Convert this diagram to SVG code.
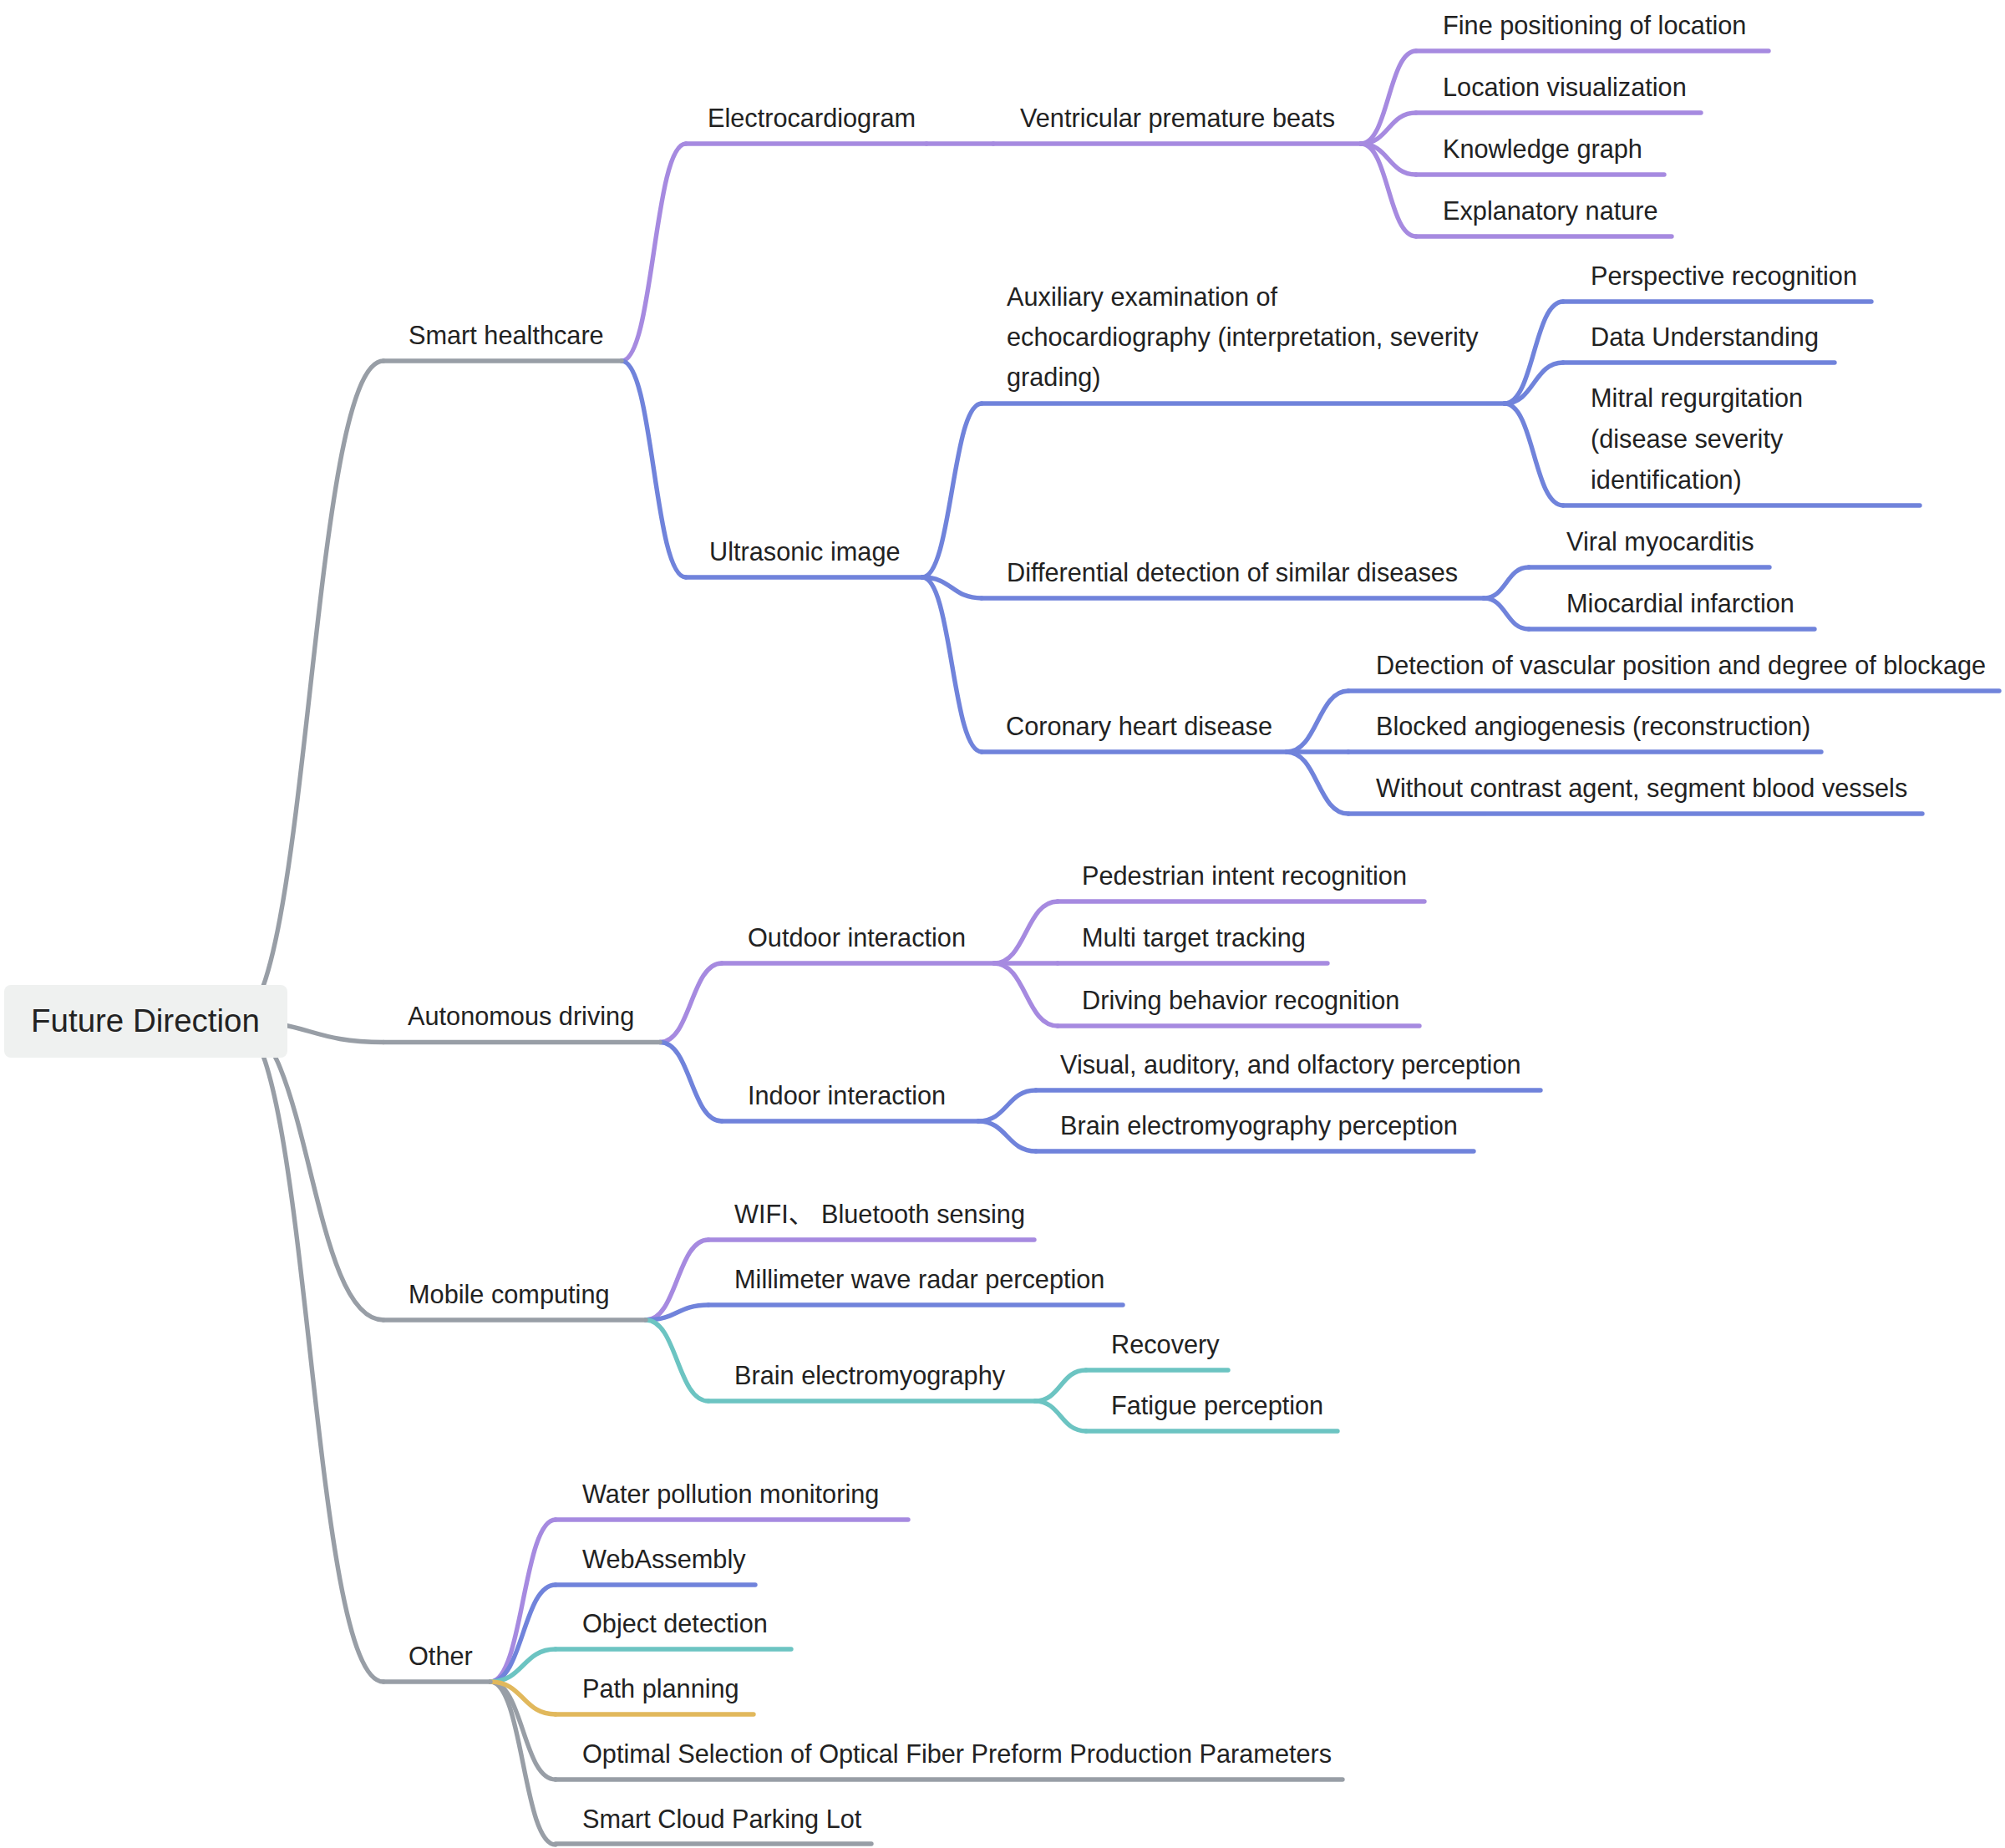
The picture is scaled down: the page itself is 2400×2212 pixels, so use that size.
<svg xmlns="http://www.w3.org/2000/svg" width="2400" height="2212" viewBox="0 0 2400 2212">
<style>
.ln{fill:none;stroke-width:5.4;stroke-linecap:round;stroke-linejoin:round}
.g{stroke:#989ea6}
.p{stroke:#a68ae0}
.b{stroke:#7083db}
.t{stroke:#6cc4c2}
.y{stroke:#e1b85c}
.lbl{font-family:"Liberation Sans","Noto Sans CJK SC",sans-serif;font-size:30.7px;fill:#222}
.root{font-family:"Liberation Sans","Noto Sans CJK SC",sans-serif;font-size:38.5px;fill:#222}
</style>
<rect width="2400" height="2212" fill="#ffffff"/>
<g id="connectors">
<path class="ln g" d="M283 1222 C371 1222 371 432 459 432"/>
<path class="ln g" d="M283 1222 C371 1222 371 1247.5 459 1247.5"/>
<path class="ln g" d="M283 1222 C371 1222 371 1580 459 1580"/>
<path class="ln g" d="M283 1222 C371 1222 371 2013 459 2013"/>
<path class="ln p" d="M744 432 C782.5 432 782.5 172 821 172"/>
<path class="ln b" d="M744 432 C782.5 432 782.5 691 821 691"/>
<path class="ln p" d="M1109 172 L1189 172"/>
<path class="ln p" d="M1629 172 C1662 172 1662 61 1695 61"/>
<path class="ln p" d="M1629 172 C1662 172 1662 135 1695 135"/>
<path class="ln p" d="M1629 172 C1662 172 1662 209 1695 209"/>
<path class="ln p" d="M1629 172 C1662 172 1662 283 1695 283"/>
<path class="ln b" d="M1104 691 C1139.5 691 1139.5 483 1175 483"/>
<path class="ln b" d="M1104 691 C1139.5 691 1139.5 716 1175 716"/>
<path class="ln b" d="M1104 691 C1139.5 691 1139.5 900 1175 900"/>
<path class="ln b" d="M1801 483 C1836 483 1836 361 1871 361"/>
<path class="ln b" d="M1801 483 C1836 483 1836 434 1871 434"/>
<path class="ln b" d="M1801 483 C1836 483 1836 605 1871 605"/>
<path class="ln b" d="M1776 716 C1803 716 1803 679 1830 679"/>
<path class="ln b" d="M1776 716 C1803 716 1803 753 1830 753"/>
<path class="ln b" d="M1540 900 C1577 900 1577 827 1614 827"/>
<path class="ln b" d="M1540 900 L1614 900"/>
<path class="ln b" d="M1540 900 C1577 900 1577 974 1614 974"/>
<path class="ln p" d="M790 1247.5 C827 1247.5 827 1153 864 1153"/>
<path class="ln b" d="M790 1247.5 C827 1247.5 827 1342 864 1342"/>
<path class="ln p" d="M1190 1153 C1228 1153 1228 1079 1266 1079"/>
<path class="ln p" d="M1190 1153 L1266 1153"/>
<path class="ln p" d="M1190 1153 C1228 1153 1228 1228 1266 1228"/>
<path class="ln b" d="M1171 1342 C1205.5 1342 1205.5 1305 1240 1305"/>
<path class="ln b" d="M1171 1342 C1205.5 1342 1205.5 1378 1240 1378"/>
<path class="ln p" d="M773 1580 C810.5 1580 810.5 1484 848 1484"/>
<path class="ln b" d="M773 1580 C810.5 1580 810.5 1562 848 1562"/>
<path class="ln t" d="M773 1580 C810.5 1580 810.5 1677 848 1677"/>
<path class="ln t" d="M1239 1677 C1269.5 1677 1269.5 1640 1300 1640"/>
<path class="ln t" d="M1239 1677 C1269.5 1677 1269.5 1713 1300 1713"/>
<path class="ln g" d="M587 2013 C626 2013 626 2208 665 2208"/>
<path class="ln g" d="M587 2013 C626 2013 626 2130 665 2130"/>
<path class="ln p" d="M587 2013 C626 2013 626 1819 665 1819"/>
<path class="ln b" d="M587 2013 C626 2013 626 1897 665 1897"/>
<path class="ln t" d="M587 2013 C626 2013 626 1974 665 1974"/>
<path class="ln y" d="M587 2013 C626 2013 626 2052 665 2052"/>
</g>
<g id="n-smart-healthcare"><line class="ln g" x1="459" y1="432" x2="744" y2="432"/><text class="lbl" x="489" y="412">Smart healthcare</text></g>
<g id="n-autonomous-driving"><line class="ln g" x1="459" y1="1247.5" x2="790" y2="1247.5"/><text class="lbl" x="488" y="1227">Autonomous driving</text></g>
<g id="n-mobile-computing"><line class="ln g" x1="459" y1="1580" x2="773" y2="1580"/><text class="lbl" x="489" y="1560">Mobile computing</text></g>
<g id="n-other"><line class="ln g" x1="459" y1="2013" x2="587" y2="2013"/><text class="lbl" x="489" y="1993">Other</text></g>
<g id="n-electrocardiogram"><line class="ln p" x1="821" y1="172" x2="1109" y2="172"/><text class="lbl" x="847" y="152">Electrocardiogram</text></g>
<g id="n-ventricular"><line class="ln p" x1="1189" y1="172" x2="1629" y2="172"/><text class="lbl" x="1221" y="152">Ventricular premature beats</text></g>
<g id="n-fine-positioning"><line class="ln p" x1="1695" y1="61" x2="2117" y2="61"/><text class="lbl" x="1727" y="41">Fine positioning of location</text></g>
<g id="n-location-visualization"><line class="ln p" x1="1695" y1="135" x2="2036" y2="135"/><text class="lbl" x="1727" y="115">Location visualization</text></g>
<g id="n-knowledge-graph"><line class="ln p" x1="1695" y1="209" x2="1992" y2="209"/><text class="lbl" x="1727" y="189">Knowledge graph</text></g>
<g id="n-explanatory-nature"><line class="ln p" x1="1695" y1="283" x2="2001" y2="283"/><text class="lbl" x="1727" y="263">Explanatory nature</text></g>
<g id="n-ultrasonic-image"><line class="ln b" x1="821" y1="691" x2="1104" y2="691"/><text class="lbl" x="849" y="671">Ultrasonic image</text></g>
<g id="n-auxiliary"><line class="ln b" x1="1175" y1="483" x2="1801" y2="483"/><text class="lbl"><tspan x="1205" y="366">Auxiliary examination of</tspan><tspan x="1205" y="414">echocardiography (interpretation, severity</tspan><tspan x="1205" y="462">grading)</tspan></text></g>
<g id="n-perspective"><line class="ln b" x1="1871" y1="361" x2="2240" y2="361"/><text class="lbl" x="1904" y="341">Perspective recognition</text></g>
<g id="n-data-understanding"><line class="ln b" x1="1871" y1="434" x2="2196" y2="434"/><text class="lbl" x="1904" y="414">Data Understanding</text></g>
<g id="n-mitral"><line class="ln b" x1="1871" y1="605" x2="2298" y2="605"/><text class="lbl"><tspan x="1904" y="487">Mitral regurgitation</tspan><tspan x="1904" y="536">(disease severity</tspan><tspan x="1904" y="585">identification)</tspan></text></g>
<g id="n-differential"><line class="ln b" x1="1175" y1="716" x2="1776" y2="716"/><text class="lbl" x="1205" y="696">Differential detection of similar diseases</text></g>
<g id="n-viral"><line class="ln b" x1="1830" y1="679" x2="2118" y2="679"/><text class="lbl" x="1875" y="659">Viral myocarditis</text></g>
<g id="n-miocardial"><line class="ln b" x1="1830" y1="753" x2="2172" y2="753"/><text class="lbl" x="1875" y="733">Miocardial infarction</text></g>
<g id="n-coronary"><line class="ln b" x1="1175" y1="900" x2="1540" y2="900"/><text class="lbl" x="1204" y="880">Coronary heart disease</text></g>
<g id="n-detection"><line class="ln b" x1="1614" y1="827" x2="2393" y2="827"/><text class="lbl" x="1647" y="807">Detection of vascular position and degree of blockage</text></g>
<g id="n-blocked"><line class="ln b" x1="1614" y1="900" x2="2180" y2="900"/><text class="lbl" x="1647" y="880">Blocked angiogenesis (reconstruction)</text></g>
<g id="n-without"><line class="ln b" x1="1614" y1="974" x2="2301" y2="974"/><text class="lbl" x="1647" y="954">Without contrast agent, segment blood vessels</text></g>
<g id="n-outdoor"><line class="ln p" x1="864" y1="1153" x2="1190" y2="1153"/><text class="lbl" x="895" y="1133">Outdoor interaction</text></g>
<g id="n-pedestrian"><line class="ln p" x1="1266" y1="1079" x2="1705" y2="1079"/><text class="lbl" x="1295" y="1059">Pedestrian intent recognition</text></g>
<g id="n-multi-target"><line class="ln p" x1="1266" y1="1153" x2="1589" y2="1153"/><text class="lbl" x="1295" y="1133">Multi target tracking</text></g>
<g id="n-driving-behavior"><line class="ln p" x1="1266" y1="1228" x2="1699" y2="1228"/><text class="lbl" x="1295" y="1208">Driving behavior recognition</text></g>
<g id="n-indoor"><line class="ln b" x1="864" y1="1342" x2="1171" y2="1342"/><text class="lbl" x="895" y="1322">Indoor interaction</text></g>
<g id="n-visual"><line class="ln b" x1="1240" y1="1305" x2="1844" y2="1305"/><text class="lbl" x="1269" y="1285">Visual, auditory, and olfactory perception</text></g>
<g id="n-brain-emg-perception"><line class="ln b" x1="1240" y1="1378" x2="1764" y2="1378"/><text class="lbl" x="1269" y="1358">Brain electromyography perception</text></g>
<g id="n-wifi"><line class="ln p" x1="848" y1="1484" x2="1238" y2="1484"/><text class="lbl" x="879" y="1464">WIFI、 Bluetooth sensing</text></g>
<g id="n-millimeter"><line class="ln b" x1="848" y1="1562" x2="1344" y2="1562"/><text class="lbl" x="879" y="1542">Millimeter wave radar perception</text></g>
<g id="n-brain-emg"><line class="ln t" x1="848" y1="1677" x2="1239" y2="1677"/><text class="lbl" x="879" y="1657">Brain electromyography</text></g>
<g id="n-recovery"><line class="ln t" x1="1300" y1="1640" x2="1470" y2="1640"/><text class="lbl" x="1330" y="1620">Recovery</text></g>
<g id="n-fatigue"><line class="ln t" x1="1300" y1="1713" x2="1601" y2="1713"/><text class="lbl" x="1330" y="1693">Fatigue perception</text></g>
<g id="n-water"><line class="ln p" x1="665" y1="1819" x2="1087" y2="1819"/><text class="lbl" x="697" y="1799">Water pollution monitoring</text></g>
<g id="n-webassembly"><line class="ln b" x1="665" y1="1897" x2="904" y2="1897"/><text class="lbl" x="697" y="1877">WebAssembly</text></g>
<g id="n-object-detection"><line class="ln t" x1="665" y1="1974" x2="947" y2="1974"/><text class="lbl" x="697" y="1954">Object detection</text></g>
<g id="n-path-planning"><line class="ln y" x1="665" y1="2052" x2="902" y2="2052"/><text class="lbl" x="697" y="2032">Path planning</text></g>
<g id="n-optimal"><line class="ln g" x1="665" y1="2130" x2="1607" y2="2130"/><text class="lbl" x="697" y="2110">Optimal Selection of Optical Fiber Preform Production Parameters</text></g>
<g id="n-smart-cloud"><line class="ln g" x1="665" y1="2207" x2="1043" y2="2207"/><text class="lbl" x="697" y="2188">Smart Cloud Parking Lot</text></g>
<g id="n-root"><rect x="5" y="1179" width="339" height="87" rx="8" fill="#eff1f0"/><text class="root" x="37" y="1235">Future Direction</text></g>
</svg>
